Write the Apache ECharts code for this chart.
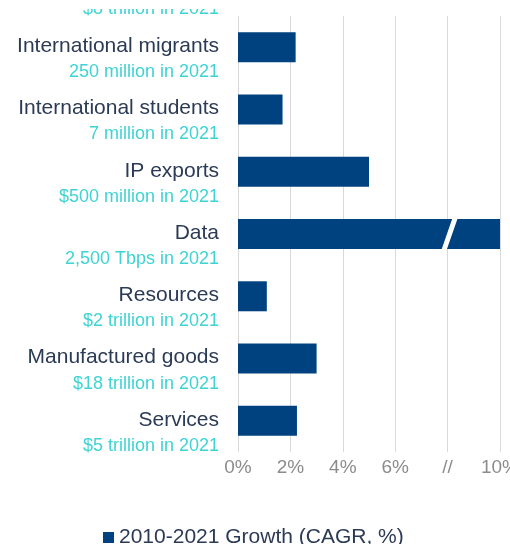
<!DOCTYPE html>
<html>
<head>
<meta charset="utf-8">
<script src="https://cdn.jsdelivr.net/npm/echarts@6/dist/echarts.min.js"></script>
<style>
html,body{margin:0;padding:0;background:#fff;overflow:hidden;}
#chart{width:510px;height:544px;}
</style>
</head>
<body>
<div id="chart"></div>
<script>
// Data (top to bottom)
const flowNames = ['International migrants', 'International students', 'IP exports', 'Data', 'Resources', 'Manufactured goods', 'Services'];
const flowSizes = ['250 million in 2021', '7 million in 2021', '$500 million in 2021', '2,500 Tbps in 2021', '$2 trillion in 2021', '$18 trillion in 2021', '$5 trillion in 2021'];
const growthCAGR = [2.2, 1.7, 5.0, 10, 1.1, 3.0, 2.25];
const cutOffLabel = '$8 trillion in 2021';
const xTicks = [0, 2, 4, 6, 8, 10];
const breakTick = 8;
const seriesName = '2010-2021 Growth (CAGR, %)';

const NAVY = '#00427f';
const chart = echarts.init(document.getElementById('chart'), null, {renderer: 'canvas'});
const FONT = 'Liberation Sans, Arial, sans-serif';

chart.setOption({
  animation: false,
  grid: {left: 238, right: 10, top: 16, bottom: 92, outerBoundsMode: 'none', containLabel: false},
  xAxis: {
    type: 'value', min: 0, max: 10, interval: 2,
    axisLine: {show: false}, axisTick: {show: false},
    splitLine: {show: true, lineStyle: {color: '#d9d9d9', width: 1}},
    axisLabel: {
      color: '#8c8c8c', fontSize: 19, fontFamily: FONT, margin: 6,
      hideOverlap: false,
      formatter: v => xTicks.includes(v) ? (v === breakTick ? '//' : v + '%') : ''
    }
  },
  yAxis: {
    type: 'category', inverse: true, data: flowNames,
    axisLine: {show: false}, axisTick: {show: false}, splitLine: {show: false},
    axisLabel: {
      margin: 19, align: 'right', verticalAlign: 'middle',
      padding: [24, 0, 0, 0],
      formatter: (v, i) => '{n|' + v + '}\n{s|' + flowSizes[i] + '}',
      rich: {
        n: {color: '#2b3a55', fontSize: 21, fontFamily: FONT, lineHeight: 26, align: 'right'},
        s: {color: '#3fd3d3', fontSize: 18, fontFamily: FONT, lineHeight: 26, align: 'right'}
      }
    }
  },
  legend: {
    left: 98, top: 522, itemWidth: 11, itemHeight: 11, itemGap: 5,
    icon: 'rect',
    textStyle: {color: '#2b3a55', fontSize: 21, fontFamily: FONT},
    data: [seriesName]
  },
  series: [{
    name: seriesName, type: 'bar', data: growthCAGR, barWidth: 30,
    itemStyle: {color: NAVY}, clip: true
  }]
});

// axis break slash on the Data bar and partially cut top label
const dataIdx = flowNames.indexOf('Data');
const p1 = chart.convertToPixel({seriesIndex: 0}, [7.85, dataIdx]);
const p2 = chart.convertToPixel({seriesIndex: 0}, [8.3, dataIdx]);
chart.setOption({
  graphic: [
    {type: 'line', z: 100, shape: {x1: p1[0], y1: p1[1] + 17, x2: p2[0], y2: p2[1] - 17},
     style: {stroke: '#ffffff', lineWidth: 5}},
    {type: 'text', z: 100, x: 219, y: 18,
     style: {text: cutOffLabel, fill: '#3fd3d3', font: '18px ' + FONT, textAlign: 'right', textVerticalAlign: 'bottom'}},
    {type: 'rect', z: 101, shape: {x: 0, y: 0, width: 510, height: 9}, style: {fill: '#ffffff'}}
  ]
});
</script>
</body>
</html>
